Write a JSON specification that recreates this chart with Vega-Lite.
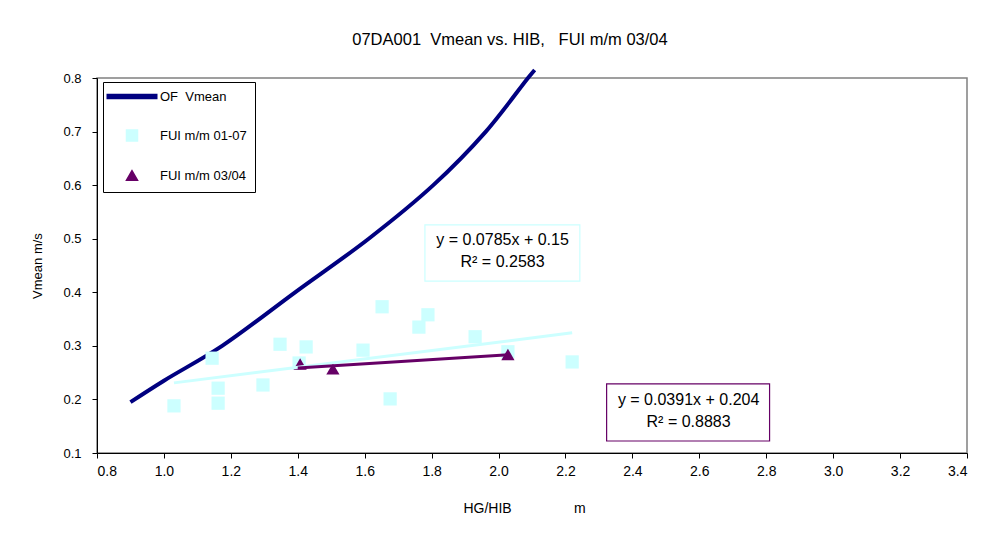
{
  "$schema": "https://vega.github.io/schema/vega-lite/v6.json",
  "width": 870,
  "height": 375,
  "autosize": {"type": "none"},
  "padding": {"left": 97, "top": 78, "right": 25, "bottom": 89},
  "background": "white",
  "title": {
    "text": "07DA001\u00a0\u00a0Vmean vs. HIB,\u00a0\u00a0\u00a0FUI m/m 03/04",
    "font": "Liberation Sans",
    "fontSize": 16.5,
    "fontWeight": "normal",
    "color": "black",
    "anchor": "middle",
    "frame": "group",
    "dx": -22,
    "offset": 13
  },
  "config": {
    "view": {"stroke": "#808080", "strokeWidth": 1.5},
    "axis": {
      "grid": false,
      "domainColor": "black",
      "tickColor": "black",
      "tickSize": 5,
      "labelColor": "black",
      "titleColor": "black",
      "titleFontWeight": "normal"
    },
    "legend": {
      "title": null,
      "orient": "none",
      "legendX": 6,
      "legendY": 4,
      "strokeColor": "black",
      "fillColor": "white",
      "padding": 8,
      "symbolSize": 121,
      "symbolOffset": 14.5,
      "rowPadding": 23,
      "labelFont": "Liberation Sans",
      "labelFontSize": 13,
      "labelColor": "black",
      "labelOffset": 21.5,
      "symbolOpacity": 1
    }
  },
  "datasets": {
    "of": [
      {"x": 0.9, "y": 0.195, "series": "OF\u00a0\u00a0Vmean"},
      {"x": 1.0, "y": 0.235, "series": "OF\u00a0\u00a0Vmean"},
      {"x": 1.174, "y": 0.3, "series": "OF\u00a0\u00a0Vmean"},
      {"x": 1.392, "y": 0.4, "series": "OF\u00a0\u00a0Vmean"},
      {"x": 1.612, "y": 0.5, "series": "OF\u00a0\u00a0Vmean"},
      {"x": 1.805, "y": 0.6, "series": "OF\u00a0\u00a0Vmean"},
      {"x": 1.962, "y": 0.7, "series": "OF\u00a0\u00a0Vmean"},
      {"x": 2.088, "y": 0.8, "series": "OF\u00a0\u00a0Vmean"},
      {"x": 2.108, "y": 0.815, "series": "OF\u00a0\u00a0Vmean"}
    ],
    "pts": [
      {"x": 1.030, "y": 0.188, "series": "FUI m/m 01-07"},
      {"x": 1.162, "y": 0.221, "series": "FUI m/m 01-07"},
      {"x": 1.162, "y": 0.193, "series": "FUI m/m 01-07"},
      {"x": 1.144, "y": 0.277, "series": "FUI m/m 01-07"},
      {"x": 1.296, "y": 0.227, "series": "FUI m/m 01-07"},
      {"x": 1.347, "y": 0.303, "series": "FUI m/m 01-07"},
      {"x": 1.425, "y": 0.298, "series": "FUI m/m 01-07"},
      {"x": 1.404, "y": 0.268, "series": "FUI m/m 01-07"},
      {"x": 1.595, "y": 0.292, "series": "FUI m/m 01-07"},
      {"x": 1.652, "y": 0.373, "series": "FUI m/m 01-07"},
      {"x": 1.762, "y": 0.335, "series": "FUI m/m 01-07"},
      {"x": 1.789, "y": 0.358, "series": "FUI m/m 01-07"},
      {"x": 1.676, "y": 0.201, "series": "FUI m/m 01-07"},
      {"x": 1.930, "y": 0.317, "series": "FUI m/m 01-07"},
      {"x": 2.028, "y": 0.289, "series": "FUI m/m 01-07"},
      {"x": 2.220, "y": 0.270, "series": "FUI m/m 01-07"},
      {"x": 1.407, "y": 0.266, "series": "FUI m/m 03/04"},
      {"x": 1.505, "y": 0.257, "series": "FUI m/m 03/04"},
      {"x": 2.028, "y": 0.284, "series": "FUI m/m 03/04"}
    ],
    "trendA": [
      {"x": 1.03, "y": 0.2309},
      {"x": 2.22, "y": 0.3243}
    ],
    "trendB": [
      {"x": 1.40, "y": 0.2587},
      {"x": 2.03, "y": 0.2834}
    ]
  },
  "layer": [
    {
      "data": {"name": "of"},
      "mark": {"type": "line", "strokeWidth": 4, "clip": false, "interpolate": "catmull-rom"},
      "encoding": {
        "x": {
          "field": "x", "type": "quantitative",
          "scale": {"domain": [0.8, 3.4], "nice": false, "zero": false},
          "axis": {
            "values": [0.8, 1.0, 1.2, 1.4, 1.6, 1.8, 2.0, 2.2, 2.4, 2.6, 2.8, 3.0, 3.2, 3.4],
            "format": ".1f",
            "title": "HG/HIB\u00a0\u00a0\u00a0\u00a0\u00a0\u00a0\u00a0\u00a0\u00a0\u00a0\u00a0\u00a0\u00a0\u00a0\u00a0\u00a0m",
            "labelFont": "Liberation Sans",
            "labelFontSize": 14,
            "labelPadding": 6,
            "titleFont": "Liberation Sans",
            "titleFontSize": 14,
            "titlePadding": 23,
            "titleX": 427,
            "titleAlign": "center"
          }
        },
        "y": {
          "field": "y", "type": "quantitative",
          "scale": {"domain": [0.1, 0.8], "nice": false, "zero": false},
          "axis": {
            "values": [0.1, 0.2, 0.3, 0.4, 0.5, 0.6, 0.7, 0.8],
            "format": ".1f",
            "title": "Vmean  m/s",
            "labelFont": "Liberation Sans",
            "labelFontSize": 13,
            "labelPadding": 11,
            "titleFont": "Liberation Sans",
            "titleFontSize": 13,
            "titlePadding": 18
          }
        },
        "color": {
          "field": "series", "type": "nominal",
          "scale": {
            "domain": ["OF\u00a0\u00a0Vmean", "FUI m/m 01-07", "FUI m/m 03/04"],
            "range": ["#000080", "#CCFFFF", "#660066"]
          }
        }
      }
    },
    {
      "data": {"name": "pts"},
      "mark": {"type": "point", "filled": true, "opacity": 1, "size": 175},
      "encoding": {
        "x": {"field": "x", "type": "quantitative"},
        "y": {"field": "y", "type": "quantitative"},
        "color": {"field": "series", "type": "nominal"},
        "shape": {
          "field": "series", "type": "nominal",
          "scale": {
            "domain": ["OF\u00a0\u00a0Vmean", "FUI m/m 01-07", "FUI m/m 03/04"],
            "range": ["M-4.5,-0.36H4.5V0.36H-4.5Z", "square", "triangle-up"]
          }
        }
      }
    },
    {
      "data": {"name": "trendA"},
      "mark": {"type": "line", "color": "#CCFFFF", "strokeWidth": 3},
      "encoding": {
        "x": {"field": "x", "type": "quantitative"},
        "y": {"field": "y", "type": "quantitative"}
      }
    },
    {
      "data": {"name": "trendB"},
      "mark": {"type": "line", "color": "#660066", "strokeWidth": 3},
      "encoding": {
        "x": {"field": "x", "type": "quantitative"},
        "y": {"field": "y", "type": "quantitative"}
      }
    },
    {
      "data": {"values": [{}]},
      "mark": {"type": "rect", "fill": "white", "stroke": "#CCFFFF", "strokeWidth": 1.2},
      "encoding": {
        "x": {"datum": 1.78, "type": "quantitative"},
        "x2": {"datum": 2.243},
        "y": {"datum": 0.526, "type": "quantitative"},
        "y2": {"datum": 0.421}
      }
    },
    {
      "data": {"values": [{}]},
      "mark": {"type": "rect", "fill": "white", "stroke": "#660066", "strokeWidth": 1.2},
      "encoding": {
        "x": {"datum": 2.323, "type": "quantitative"},
        "x2": {"datum": 2.81},
        "y": {"datum": 0.229, "type": "quantitative"},
        "y2": {"datum": 0.1224}
      }
    },
    {
      "data": {"values": [{}]},
      "mark": {
        "type": "text",
        "text": ["y = 0.0785x + 0.15", "R\u00b2 = 0.2583"],
        "font": "Liberation Sans",
        "fontSize": 16,
        "lineHeight": 22,
        "align": "center",
        "baseline": "middle",
        "color": "black"
      },
      "encoding": {
        "x": {"datum": 2.012, "type": "quantitative"},
        "y": {"datum": 0.4976, "type": "quantitative"}
      }
    },
    {
      "data": {"values": [{}]},
      "mark": {
        "type": "text",
        "text": ["y = 0.0391x + 0.204", "R\u00b2 = 0.8883"],
        "font": "Liberation Sans",
        "fontSize": 16,
        "lineHeight": 22,
        "align": "center",
        "baseline": "middle",
        "color": "black"
      },
      "encoding": {
        "x": {"datum": 2.568, "type": "quantitative"},
        "y": {"datum": 0.199, "type": "quantitative"}
      }
    }
  ]
}
